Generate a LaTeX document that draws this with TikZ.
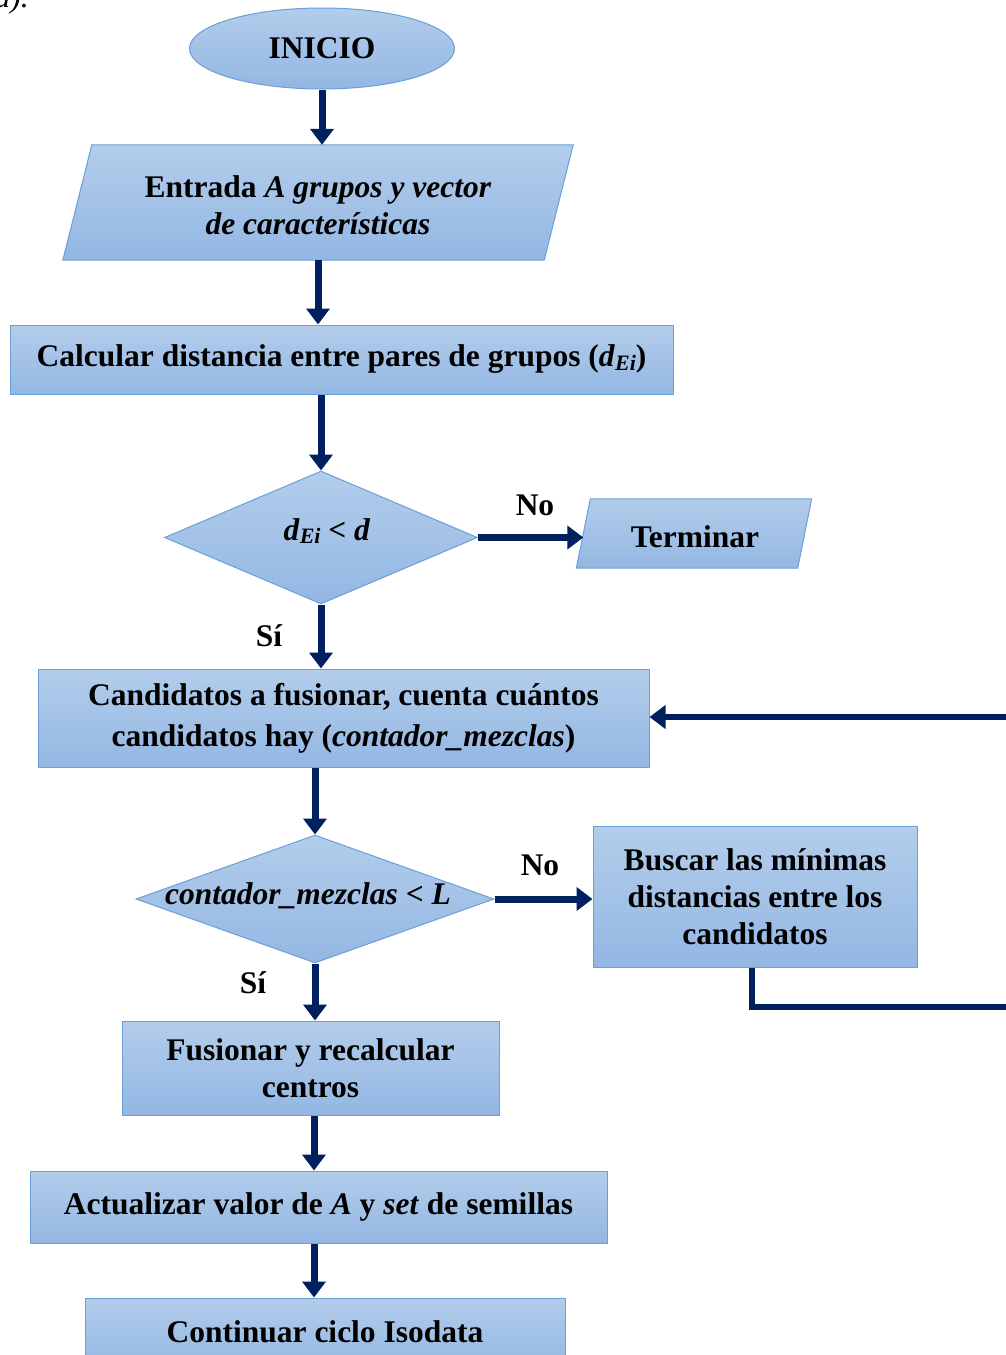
\documentclass[tikz,border=0pt]{standalone}
\usepackage{fontspec}
\setmainfont{Liberation Serif}
\usetikzlibrary{arrows.meta,shapes.geometric,calc}

\definecolor{fillTop}{HTML}{B3CDEB}
\definecolor{fillBot}{HTML}{93B7E3}
\definecolor{edgeBlue}{HTML}{6A9FD8}
\definecolor{navy}{HTML}{002060}

% d with subscript Ei, set in bold italic text
\newcommand\dsubEi{\textit{d}\raisebox{-0.25ex}{\fontsize{22}{22}\selectfont\textit{Ei}}}

\begin{document}
\begin{tikzpicture}[x=1pt,y=-1pt,
  every node/.style={font=\fontsize{31.5}{37}\selectfont\bfseries, text=black, align=center, inner sep=0pt},
  box/.style={draw=edgeBlue, line width=1pt, top color=fillTop, bottom color=fillBot},
  rbox/.style args={#1x#2}{box, rectangle, minimum width=#1pt, minimum height=#2pt},
  dbox/.style args={#1x#2}{box, diamond, minimum width=#1pt, minimum height=#2pt},
  frame/.style args={#1x#2}{rectangle, minimum width=#1pt, minimum height=#2pt},
  pgram/.style={draw=edgeBlue, line width=1pt, top color=fillTop, bottom color=fillBot},
  arr/.style={draw=navy, line width=7pt, -{Triangle[width=23pt,length=16pt]}},
  loopline/.style={draw=navy, line width=6pt, -{Triangle[width=23pt,length=16pt]}}]

\useasboundingbox (0,0) rectangle (1005,1355);

% caption fragment above the chart
\node[anchor=base east, font=\fontsize{31.5}{37}\selectfont\itshape] (cap) at (29,7) {a).};

% start
\node[box, ellipse, minimum width=265pt, minimum height=81pt] (ini) at (322,48.5) {INICIO};

% input (parallelogram)
\node[frame=481x115] (ent) at (318,202.5) {};
\shade[pgram] ($(ent.north west)+(14.5,0)$) -- ($(ent.north east)+(14.5,0)$)
  -- ($(ent.south east)+(-14.5,0)$) -- ($(ent.south west)+(-14.5,0)$) -- cycle;
\node at (318,205) {Entrada \textit{A grupos y vector}\\\textit{de características}};

% distance computation
\node[rbox=663x69] (calc) at (341.5,359.5) {Calcular distancia entre pares de grupos (\dsubEi)};

% first decision
\node[dbox=313x133] (d1) at (321,537.5) {};
\node at (327,531) {\dsubEi{} < \textit{d}};

% end (parallelogram)
\node[frame=221x69] (term) at (694,533.5) {};
\shade[pgram] ($(term.north west)+(7,0)$) -- ($(term.north east)+(7,0)$)
  -- ($(term.south east)+(-7,0)$) -- ($(term.south west)+(-7,0)$) -- cycle;
\node at (695,537) {Terminar};

% candidates
\node[rbox=611x98, font=\fontsize{31.5}{41}\selectfont\bfseries] (cand) at (343.5,718) {Candidatos a fusionar, cuenta cuántos\\candidatos hay (\textit{contador\_mezclas})};

% second decision
\node[dbox=358x128] (d2) at (315,899) {};
\node at (308,896) {\textit{contador\_mezclas} < \textit{L}};

% search minimum distances
\node[rbox=324x141] (busc) at (755,896.5) {Buscar las mínimas\\distancias entre los\\candidatos};

% merge
\node[rbox=377x94] (fus) at (310.5,1068) {Fusionar y recalcular\\centros};

% update
\node[rbox=577x72] (act) at (318.5,1207) {Actualizar valor de \textit{A} y \textit{set} de semillas};

% continue
\node[rbox=480x68] (cont) at (325,1332) {Continuar ciclo Isodata};

% branch labels
\node (no1) at (535,505) {No};
\node (si1) at (269,636) {Sí};
\node (no2) at (540,865) {No};
\node (si2) at (253,983) {Sí};

% connectors
\draw[arr] (ini.south) -- (ini.south |- ent.north);
\draw[arr] (ent.south) -- (ent.south |- calc.north);
\draw[arr] (d1.north |- calc.south) -- (d1.north);
\draw[arr] (d1.east) -- (d1.east -| term.west);
\draw[arr] (d1.south) -- (d1.south |- cand.north);
\draw[arr] (d2.north |- cand.south) -- (d2.north);
\draw[arr] (d2.east) -- (d2.east -| busc.west);
\draw[arr] (d2.south) -- (d2.south |- fus.north);
\draw[arr] ([xshift=3.5pt]fus.south) -- ([xshift=3.5pt]fus.south |- act.north);
\draw[arr] ([xshift=3.5pt]act.south -| fus.south) -- ([xshift=3.5pt]fus.south |- cont.north);

% loop back to the candidates box (runs past the right edge)
\coordinate (loopR) at (1040,1007);
\draw[loopline] ([xshift=-3pt]busc.south) |- (loopR) |- ([yshift=1pt]cand.east);
\end{tikzpicture}
\end{document}
